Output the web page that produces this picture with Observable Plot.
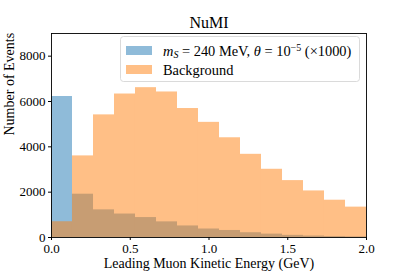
<!DOCTYPE html>
<html><head><meta charset="utf-8">
<script src="https://cdn.jsdelivr.net/npm/d3@7"></script>
<script src="https://cdn.jsdelivr.net/npm/@observablehq/plot@0.6"></script>
<style>body{margin:0;background:#fff;} svg{display:block;}</style>
</head><body><div id="chart"></div>
<script>
// Histogram bins (GeV)
const binLo = [0, 0.1333, 0.2667, 0.4, 0.5333, 0.6667, 0.8, 0.9333, 1.0667, 1.2, 1.3333, 1.4667, 1.6, 1.7333, 1.8667];
const binHi = [0.1333, 0.2667, 0.4, 0.5333, 0.6667, 0.8, 0.9333, 1.0667, 1.2, 1.3333, 1.4667, 1.6, 1.7333, 1.8667, 2.0];
// Signal (x1000) and background counts per bin
const signal = [6220, 1910, 1220, 1035, 880, 690, 510, 375, 310, 210, 150, 95, 65, 42, 28];
const background = [695, 3600, 5410, 6330, 6610, 6420, 5690, 5080, 4400, 3670, 3010, 2510, 2055, 1645, 1340];
const xTicks = [0, 0.5, 1.0, 1.5, 2.0];
const yTicks = [0, 2000, 4000, 6000, 8000];
const titleText = "NuMI";
const xLabel = "Leading Muon Kinetic Energy (GeV)";
const yLabel = "Number of Events";
const legendSignal = ["m", "S", " = 240 MeV, ", "θ", " = 10", "−5", " (×1000)"];
const legendBackground = "Background";

const rows = binLo.map((lo, i) => ({lo, hi: binHi[i], signal: signal[i], background: background[i]}));
const font = "'Liberation Serif', 'DejaVu Serif', serif";
const C0 = "#1f77b4", C1 = "#ff7f0e";

const plot = Plot.plot({
  width: 407, height: 271,
  marginLeft: 51, marginRight: 41, marginTop: 33, marginBottom: 34,
  style: {fontFamily: font, fontSize: "13px", background: "white", color: "black"},
  x: {domain: [0, 2]},
  y: {domain: [0, 9000]},
  marks: [
    Plot.rectY(rows, {x1: "lo", x2: "hi", y: "signal", fill: C0, fillOpacity: 0.5, insetLeft: 0, insetRight: 0}),
    Plot.rectY(rows, {x1: "lo", x2: "hi", y: "background", fill: C1, fillOpacity: 0.5, insetLeft: 0, insetRight: 0}),
    Plot.axisX({ticks: xTicks, tickSize: 3, tickPadding: 3, tickFormat: d3.format(".1f"), label: null, fontSize: 13}),
    Plot.axisY({ticks: yTicks, tickSize: 3, tickPadding: 3, tickFormat: d => String(d), label: null, fontSize: 13}),
    Plot.frame({stroke: "black", strokeWidth: 0.9}),
    Plot.text([titleText], {frameAnchor: "top", dy: -5.5, lineAnchor: "bottom", fontSize: 16}),
    Plot.text([xLabel], {frameAnchor: "bottom", dy: 30.5, lineAnchor: "bottom", fontSize: 14}),
    Plot.text([yLabel], {frameAnchor: "left", dx: -42, rotate: -90, lineAnchor: "middle", fontSize: 14})
  ]
});
document.getElementById("chart").append(plot);

// Legend
const svg = d3.select(plot);
const lg = svg.append("g").attr("font-family", font).attr("font-size", 14.4).attr("text-anchor", "start");
lg.append("rect").attr("x", 120.5).attr("y", 36.5).attr("width", 239).attr("height", 45)
  .attr("rx", 3).attr("fill", "white").attr("fill-opacity", 0.8).attr("stroke", "#d0d0d0").attr("stroke-width", 0.8);
lg.append("rect").attr("x", 126).attr("y", 46).attr("width", 26).attr("height", 9).attr("fill", C0).attr("fill-opacity", 0.5);
lg.append("rect").attr("x", 126).attr("y", 65).attr("width", 26).attr("height", 9).attr("fill", C1).attr("fill-opacity", 0.5);
const t1 = lg.append("text").attr("x", 163).attr("y", 55.5).attr("text-anchor", "start");
t1.append("tspan").attr("font-style", "italic").text(legendSignal[0]);
t1.append("tspan").attr("font-style", "italic").attr("font-size", 10).attr("dy", 2.5).text(legendSignal[1]);
t1.append("tspan").attr("dy", -2.5).text(legendSignal[2]);
t1.append("tspan").attr("font-style", "italic").text(legendSignal[3]);
t1.append("tspan").text(legendSignal[4]);
t1.append("tspan").attr("font-size", 10).attr("dy", -5).text(legendSignal[5]);
t1.append("tspan").attr("dy", 5).text(legendSignal[6]);
lg.append("text").attr("x", 163).attr("y", 74.5).attr("text-anchor", "start").text(legendBackground);
</script>
</body></html>
